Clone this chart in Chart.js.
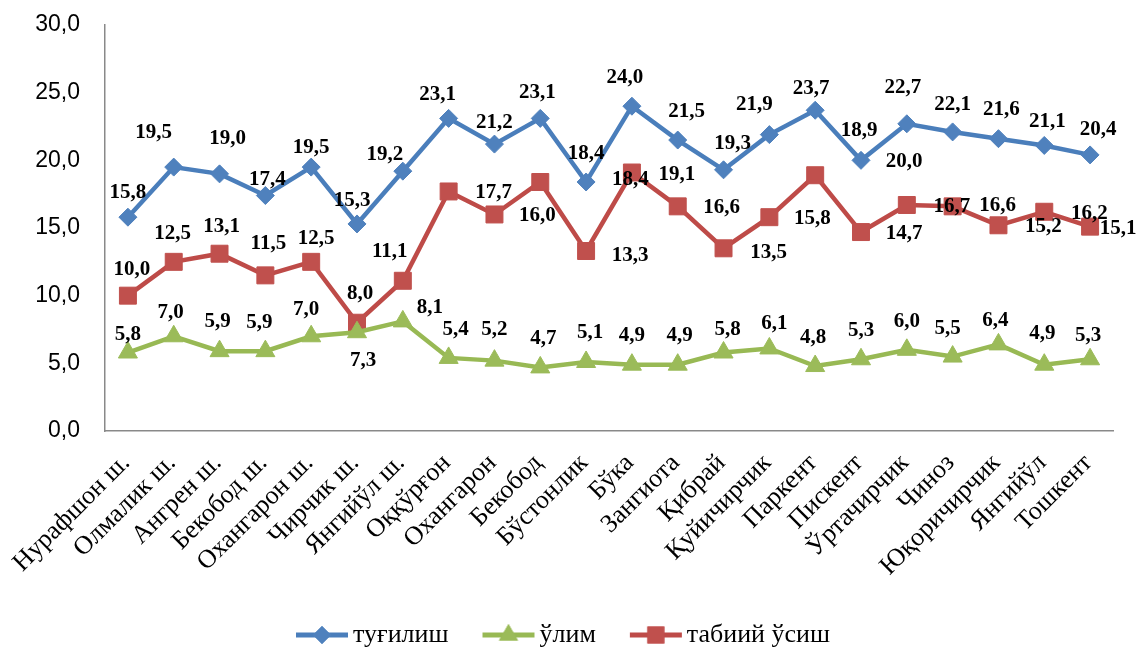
<!DOCTYPE html>
<html>
<head>
<meta charset="utf-8">
<script src="https://cdn.jsdelivr.net/npm/chart.js@4.4.1/dist/chart.umd.min.js"></script>
<style>
  html, body { margin: 0; padding: 0; background: #fff; }
</style>
</head>
<body>
<canvas id="chart" width="1136" height="648"></canvas>
<script>
// туманлар / шаҳарлар
const categories = ['Нурафшон ш.', 'Олмалик ш.', 'Ангрен ш.', 'Бекобод ш.', 'Охангарон ш.', 'Чирчик ш.', 'Янгийўл ш.',
  'Оққўрғон', 'Охангарон', 'Бекобод', 'Бўстонлик', 'Бўка', 'Зангиота', 'Қибрай', 'Қуйичирчик', 'Паркент',
  'Пискент', 'Ўртачирчик', 'Чиноз', 'Юқоричирчик', 'Янгийўл', 'Тошкент'];

const births = [15.8, 19.5, 19.0, 17.4, 19.5, 15.3, 19.2, 23.1, 21.2, 23.1, 18.4, 24.0, 21.5, 19.3, 21.9, 23.7, 20.0, 22.7, 22.1, 21.6, 21.1, 20.4];
const deaths = [5.8, 7.0, 5.9, 5.9, 7.0, 7.3, 8.1, 5.4, 5.2, 4.7, 5.1, 4.9, 4.9, 5.8, 6.1, 4.8, 5.3, 6.0, 5.5, 6.4, 4.9, 5.3];
const growth = [10.0, 12.5, 13.1, 11.5, 12.5, 8.0, 11.1, 17.7, 16.0, 18.4, 13.3, 19.1, 16.6, 13.5, 15.8, 18.9, 14.7, 16.7, 16.6, 15.2, 16.2, 15.1];

const seriesNames = ['туғилиш', 'ўлим', 'табиий ўсиш'];
const yMin = 0, yMax = 30, yStep = 5;

// ёрлиқлар жойлашуви (нуқтага нисбатан, px)
const labelShift = [
  [[0,-26],[-20,-36],[8,-37],[2,-18],[0,-21],[-5,-25],[-18,-18],[-11,-25],[0,-23],[-3,-27],[0,-30],
   [-7,-30],[9,-30],[9,-28],[-15,-32],[-4,-23],[43,0],[-4,-38],[0,-29],[3,-31],[3,-25],[8,-27]],
  [[0,-20],[-3,-25],[-2,-31],[-6,-30],[-5,-28],[6,27],[27,-15],[7,-30],[0,-33],[3,-30],[4,-31],
   [0,-31],[2,-31],[4,-25],[5,-26],[-2,-30],[0,-30],[0,-30],[-5,-30],[-3,-25],[-2,-33],[-2,-25]],
  [[4,-28],[-1,-30],[2,-29],[3,-33],[5,-25],[3,-31],[-13,-31],[45,0],[43,0],[90,-4],[44,3],
   [45,0],[44,0],[45,3],[43,0],[44,-46],[43,0],[45,0],[45,-2],[45,0],[45,0],[28,0]]
];

const fmt = v => Number(v).toFixed(1).replace('.', ',');
const serif = '"Liberation Serif", "Times New Roman", serif';

const colors = [
  { line: '#4A7EBB', mark: '#4F81BD', style: 'rectRot', r: 9 },
  { line: '#98B954', mark: '#9BBB59', style: 'triangle', r: 11 },
  { line: '#BE4B48', mark: '#C0504D', style: 'rect', r: 12 }
];

// легенда белгилари: чизиқ + маркер
function makeIcon(c) {
  const cv = document.createElement('canvas');
  cv.width = 56; cv.height = 26;
  const g = cv.getContext('2d');
  g.strokeStyle = c.line; g.lineWidth = 5;
  g.beginPath(); g.moveTo(2, 13); g.lineTo(54, 13); g.stroke();
  g.fillStyle = c.mark;
  Chart.helpers.drawPoint(g, { pointStyle: c.style, radius: c.r, rotation: 0, borderWidth: 0 }, 28, 13);
  g.fill();
  return cv;
}
const legendIcons = colors.map(makeIcon);

const valueLabels = {
  id: 'valueLabels',
  afterDatasetsDraw(chart) {
    const ctx = chart.ctx;
    ctx.save();
    ctx.font = 'bold 21px ' + serif;
    ctx.fillStyle = '#000';
    ctx.textAlign = 'center';
    ctx.textBaseline = 'alphabetic';
    chart.data.datasets.forEach((ds, di) => {
      const meta = chart.getDatasetMeta(di);
      meta.data.forEach((pt, i) => {
        const s = labelShift[di][i];
        ctx.fillText(fmt(ds.data[i]), pt.x + s[0], pt.y + s[1] + 7);
      });
    });
    ctx.restore();
  }
};

function mkDataset(name, data, c) {
  return {
    label: name, data: data,
    borderColor: c.line, borderWidth: 4.5,
    backgroundColor: c.mark,
    pointStyle: c.style, pointRadius: c.r, pointHoverRadius: c.r,
    pointBackgroundColor: c.mark, pointBorderColor: c.mark, pointBorderWidth: 1,
    tension: 0, fill: false
  };
}

const chart = new Chart(document.getElementById('chart'), {
  type: 'line',
  data: {
    labels: categories,
    datasets: [
      mkDataset(seriesNames[0], births, colors[0]),
      mkDataset(seriesNames[1], deaths, colors[1]),
      mkDataset(seriesNames[2], growth, colors[2])
    ]
  },
  options: {
    responsive: false, animation: false,
    layout: { padding: { left: 21, right: 23, top: 25, bottom: -10 } },
    plugins: {
      tooltip: { enabled: false },
      legend: {
        position: 'bottom',
        labels: {
          usePointStyle: true, pointStyleWidth: 36, padding: 42,
          color: '#000',
          font: { family: serif, size: 26 },
          generateLabels(ch) {
            const items = Chart.defaults.plugins.legend.labels.generateLabels(ch);
            items.forEach((it, i) => { it.pointStyle = legendIcons[i]; });
            return items;
          }
        }
      }
    },
    scales: {
      x: {
        offset: true,
        grid: { display: false, drawTicks: false },
        border: { display: true, color: '#898989', width: 1.5 },
        ticks: {
          autoSkip: false, minRotation: 45, maxRotation: 45,
          padding: 17, labelOffset: -2,
          color: '#000',
          font: { family: serif, size: 26 }
        },
        afterFit(s) { s.height = 149; s.paddingLeft = 0; s.paddingRight = 0; }
      },
      y: {
        min: yMin, max: yMax,
        grid: { display: false, drawTicks: false },
        border: { display: true, color: '#898989', width: 1.5 },
        ticks: {
          stepSize: yStep, padding: 25, color: '#000',
          font: { family: '"Liberation Sans", Arial, sans-serif', size: 23 },
          callback: v => fmt(v)
        },
        afterFit(s) { s.width = 84; s.paddingTop = 0; s.paddingBottom = 0; }
      }
    }
  },
  plugins: [valueLabels]
});
</script>
</body>
</html>
